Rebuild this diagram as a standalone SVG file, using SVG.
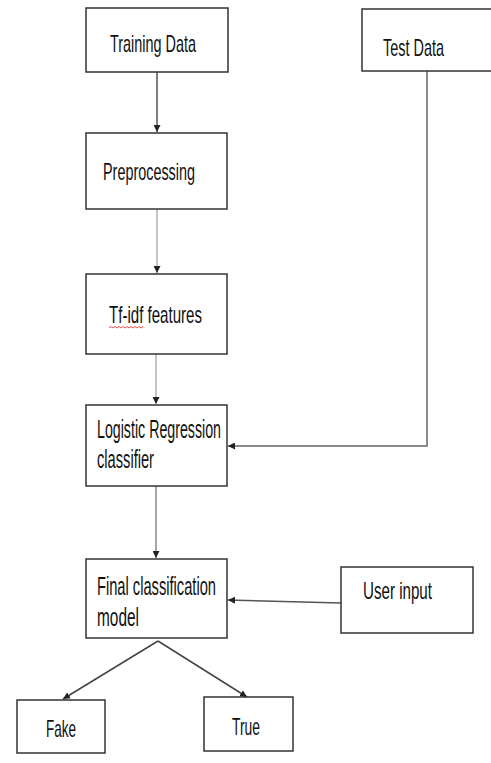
<svg xmlns="http://www.w3.org/2000/svg" width="491" height="763" viewBox="0 0 491 763">
<defs>
<marker id="ah" viewBox="0 0 8 8" refX="8" refY="4" markerWidth="7" markerHeight="7" markerUnits="userSpaceOnUse" orient="auto">
<path d="M0,0 L8,4 L0,8 Z" fill="#222"/>
</marker>
<style>
.box{fill:#fff;stroke:#333;stroke-width:1.5}
.t{font-family:"Liberation Sans",Arial,sans-serif;font-size:24px;fill:#111}
.l{font-size:26px}
.c{fill:none;stroke-width:1.5}
</style>
</defs>
<rect width="491" height="763" fill="#fff"/>
<g id="connectors">
<line class="c" x1="157" y1="72" x2="157" y2="132" stroke="#555" marker-end="url(#ah)"/>
<line class="c" x1="157" y1="209" x2="157" y2="273" stroke="#b0b0b0" marker-end="url(#ah)"/>
<line class="c" x1="156" y1="354" x2="156" y2="404" stroke="#b0b0b0" marker-end="url(#ah)"/>
<line class="c" x1="156" y1="486" x2="156" y2="558" stroke="#888" marker-end="url(#ah)"/>
<polyline class="c" points="427,71 427,446 228,446" stroke="#666" marker-end="url(#ah)"/>
<line class="c" x1="341" y1="603" x2="228" y2="600" stroke="#555" marker-end="url(#ah)"/>
<line class="c" x1="158" y1="641" x2="63" y2="699" stroke="#444" marker-end="url(#ah)"/>
<line class="c" x1="158" y1="641" x2="247" y2="697" stroke="#444" marker-end="url(#ah)"/>
</g>
<g id="training">
<rect class="box" x="86" y="8" width="142" height="64"/>
<text class="t" x="110" y="52" textLength="86" lengthAdjust="spacingAndGlyphs">Training Data</text>
</g>
<g id="test">
<rect class="box" x="362" y="9" width="140" height="62"/>
<text class="t" x="383" y="56" textLength="61" lengthAdjust="spacingAndGlyphs">Test Data</text>
</g>
<g id="preprocessing">
<rect class="box" x="86" y="133" width="141" height="76"/>
<text class="t" x="103" y="180" textLength="92" lengthAdjust="spacingAndGlyphs">Preprocessing</text>
</g>
<g id="tfidf">
<rect class="box" x="86" y="274" width="141" height="80"/>
<text class="t" x="109" y="323" textLength="93" lengthAdjust="spacingAndGlyphs">Tf-idf features</text>
<path d="M109,328 l2,-1.5 l2,1.5 l2,-1.5 l2,1.5 l2,-1.5 l2,1.5 l2,-1.5 l2,1.5 l2,-1.5 l2,1.5 l2,-1.5 l2,1.5 l2,-1.5 l2,1.5 l2,-1.5 l2,1.5 l2,-1.5 l1,1" fill="none" stroke="#e02020" stroke-width="0.8"/>
</g>
<g id="logistic">
<rect class="box" x="86" y="405" width="141" height="81"/>
<text class="t l" x="97" y="438" textLength="124" lengthAdjust="spacingAndGlyphs">Logistic Regression</text>
<text class="t l" x="97" y="468" textLength="57" lengthAdjust="spacingAndGlyphs">classifier</text>
</g>
<g id="final">
<rect class="box" x="86" y="559" width="141" height="79"/>
<text class="t l" x="97" y="595" textLength="119" lengthAdjust="spacingAndGlyphs">Final classification</text>
<text class="t l" x="97" y="626" textLength="42" lengthAdjust="spacingAndGlyphs">model</text>
</g>
<g id="userinput">
<rect class="box" x="341" y="567" width="132" height="66"/>
<text class="t" x="363" y="599" textLength="69" lengthAdjust="spacingAndGlyphs">User input</text>
</g>
<g id="fake">
<rect class="box" x="17" y="700" width="88" height="53"/>
<text class="t" x="46" y="737" textLength="30" lengthAdjust="spacingAndGlyphs">Fake</text>
</g>
<g id="true">
<rect class="box" x="204" y="697" width="89" height="54"/>
<text class="t" x="232" y="735" textLength="28" lengthAdjust="spacingAndGlyphs">True</text>
</g>
</svg>
